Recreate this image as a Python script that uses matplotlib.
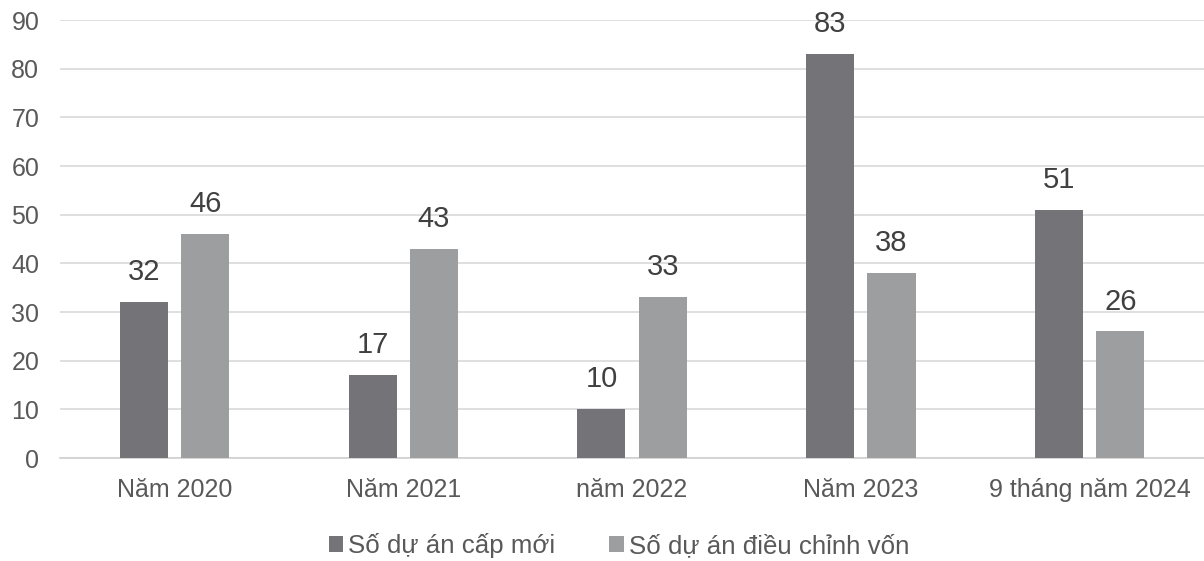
import matplotlib
matplotlib.use("Agg")
import matplotlib.pyplot as plt
import numpy as np

categories = ["Năm 2020", "Năm 2021", "năm 2022", "Năm 2023", "9 tháng năm 2024"]
new_projects = [32, 17, 10, 83, 51]
adjusted_projects = [46, 43, 33, 38, 26]
series_names = ["Số dự án cấp mới", "Số dự án điều chỉnh vốn"]
yticks = [0, 10, 20, 30, 40, 50, 60, 70, 80, 90]

plt.rcParams['font.family'] = ['Liberation Sans', 'DejaVu Sans']
text_color = "#595959"
dark = "#747478"
light = "#9c9ea0"

fig = plt.figure(figsize=(12.04, 5.61), dpi=100)
ax = fig.add_axes([0.05, 0.1836, 0.95, 0.7807])

x = np.arange(len(categories))
w = 0.21
off = 0.134
b1 = ax.bar(x - off, new_projects, w, color=dark, label=series_names[0], zorder=3)
b2 = ax.bar(x + off, adjusted_projects, w, color=light, label=series_names[1], zorder=3)

for bars in (b1, b2):
    for r in bars:
        ax.annotate(f"{int(r.get_height())}", (r.get_x() + r.get_width() / 2, r.get_height()),
                    xytext=(0, 11.5), textcoords="offset points", ha="center", va="bottom",
                    fontsize=21, color="#404040")

ax.set_xlim(-0.5, len(categories) - 0.5)
ax.set_ylim(0, 90)
ax.set_yticks(yticks)
ax.set_xticks(x)
ax.set_xticklabels(categories)
ax.tick_params(axis="both", length=0, labelsize=18, colors=text_color)
ax.tick_params(axis="x", pad=14.5)
ax.tick_params(axis="y", pad=15)
ax.grid(axis="y", color="#d9d9d9", linewidth=1.2, zorder=0)
for s in ["top", "right", "left"]:
    ax.spines[s].set_visible(False)
ax.spines["bottom"].set_color("#d0d0d0")
ax.spines["bottom"].set_linewidth(1.2)

fig.legend(handles=[b1, b2], labels=series_names, loc="center", bbox_to_anchor=(0.514, 0.027),
           ncol=2, frameon=False, fontsize=18.6, labelcolor=text_color,
           handlelength=0.55, handleheight=0.55, handletextpad=0.2, columnspacing=2.1)

fig.savefig("out.png", dpi=100)
